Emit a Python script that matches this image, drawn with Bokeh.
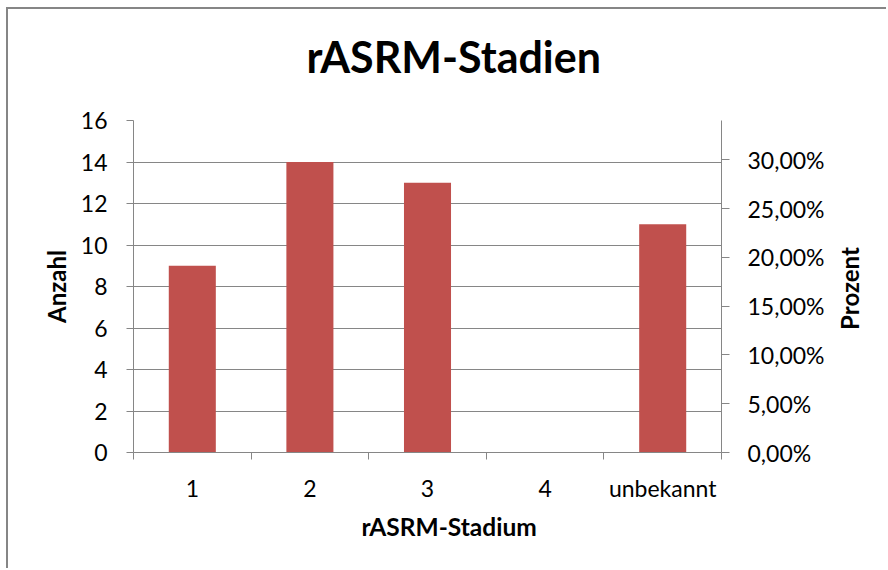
import math

from bokeh.plotting import figure
from bokeh.models import Range1d, LinearAxis, FixedTicker, CustomJSTickFormatter, Title, Label
from bokeh.embed import file_html
from bokeh.resources import INLINE

# rASRM stage counts
categories = ["1", "2", "3", "4", "unbekannt"]
counts = [9, 14, 13, 0, 11]
count_ticks = [0, 2, 4, 6, 8, 10, 12, 14, 16]
pct_ticks = [0.0, 0.05, 0.10, 0.15, 0.20, 0.25, 0.30]

total = sum(counts)
count_max = count_ticks[-1]

GRAY = "#868686"
BAR = "#C0504D"
FONT = "Lato"

centers = [i + 0.5 for i in range(len(categories))]
bounds = list(range(len(categories) + 1))

W, H = 880, 561
BORDER_L, BORDER_R, BORDER_T, BORDER_B = 125, 167, 111, 118

p = figure(
    width=W, height=H,
    output_backend="svg", toolbar_location=None,
    x_range=Range1d(0, len(categories)), y_range=Range1d(0, count_max),
    min_border_left=BORDER_L, min_border_right=BORDER_R,
    min_border_top=BORDER_T, min_border_bottom=BORDER_B,
    margin=(7, 0, 0, 6),
)
p.styles = {"border-left": f"2px solid {GRAY}", "border-top": f"2px solid {GRAY}"}
p.outline_line_color = None
p.background_fill_color = "white"
p.border_fill_color = "white"
p.title.visible = False

frame_w = W - BORDER_L - BORDER_R
frame_h = H - BORDER_T - BORDER_B

# chart title, kept in the top side panel (canvas coordinates)
chart_title = Label(
    x=296, y=45, x_units="canvas", y_units="canvas",
    text="rASRM-Stadien", text_align="left", text_baseline="alphabetic",
    text_font=FONT, text_font_size="43px", text_font_style="bold",
    text_color="black",
)
p.add_layout(chart_title, "above")

# bars
p.vbar(x=centers, top=counts, width=0.4, fill_color=BAR, line_color=None)

# grid
p.xgrid.visible = False
p.ygrid.ticker = FixedTicker(ticks=count_ticks)
p.ygrid.grid_line_color = GRAY
p.ygrid.grid_line_width = 1

# x axis: labels at category centres, ticks on category boundaries
xa = p.xaxis[0]
xa.ticker = FixedTicker(ticks=centers, minor_ticks=bounds)
xa.major_label_overrides = {c: lab for c, lab in zip(centers, categories)}
xa.major_tick_out = 0
xa.major_tick_in = 0
xa.minor_tick_out = 7
xa.minor_tick_in = 0
xa.minor_tick_line_color = GRAY
xa.axis_line_color = GRAY
xa.major_label_text_font = FONT
xa.major_label_text_font_size = "23px"
xa.major_label_text_color = "black"
xa.major_label_standoff = 14

xtitle = Title(text="rASRM-Stadium", align="left", offset=228,
               text_font=FONT, text_font_size="24.5px", text_font_style="bold",
               text_color="black", standoff=10)
p.add_layout(xtitle, "below")

# left axis: counts
ya = p.yaxis[0]
ya.ticker = FixedTicker(ticks=count_ticks, minor_ticks=[])
ya.axis_label = "Anzahl"
ya.axis_label_text_font = FONT
ya.axis_label_text_font_size = "24px"
ya.axis_label_text_font_style = "bold"
ya.axis_label_text_color = "black"
ya.axis_label_standoff = 7
ya.major_tick_out = 7
ya.major_tick_in = 0
ya.major_tick_line_color = GRAY
ya.axis_line_color = GRAY
ya.major_label_text_font = FONT
ya.major_label_text_font_size = "23px"
ya.major_label_text_color = "black"
ya.major_label_standoff = 19

# right axis: share of all cases
p.extra_y_ranges = {"pct": Range1d(0, count_max / total)}
ra = LinearAxis(y_range_name="pct")
ra.ticker = FixedTicker(ticks=pct_ticks, minor_ticks=[])
ra.formatter = CustomJSTickFormatter(
    code="return (tick * 100).toFixed(2).replace('.', ',') + '%';")
ra.major_tick_out = 8
ra.major_tick_in = 0
ra.major_tick_line_color = GRAY
ra.axis_line_color = GRAY
ra.major_label_text_font = FONT
ra.major_label_text_font_size = "23px"
ra.major_label_text_color = "black"
ra.major_label_standoff = 18
p.add_layout(ra, "right")

# right axis title, reading bottom to top, centred on the plot height;
# kept in the right-hand side panel so it is not clipped to the plot area
pct_title = Label(
    x=BORDER_L + frame_w + 126, y=BORDER_T + frame_h / 2,
    x_units="canvas", y_units="canvas",
    text="Prozent", angle=math.pi / 2,
    text_align="center", text_baseline="alphabetic",
    text_font=FONT, text_font_size="24px", text_font_style="bold",
    text_color="black",
)
p.add_layout(pct_title, "right")

open("out.html", "w").write(file_html(p, INLINE))
